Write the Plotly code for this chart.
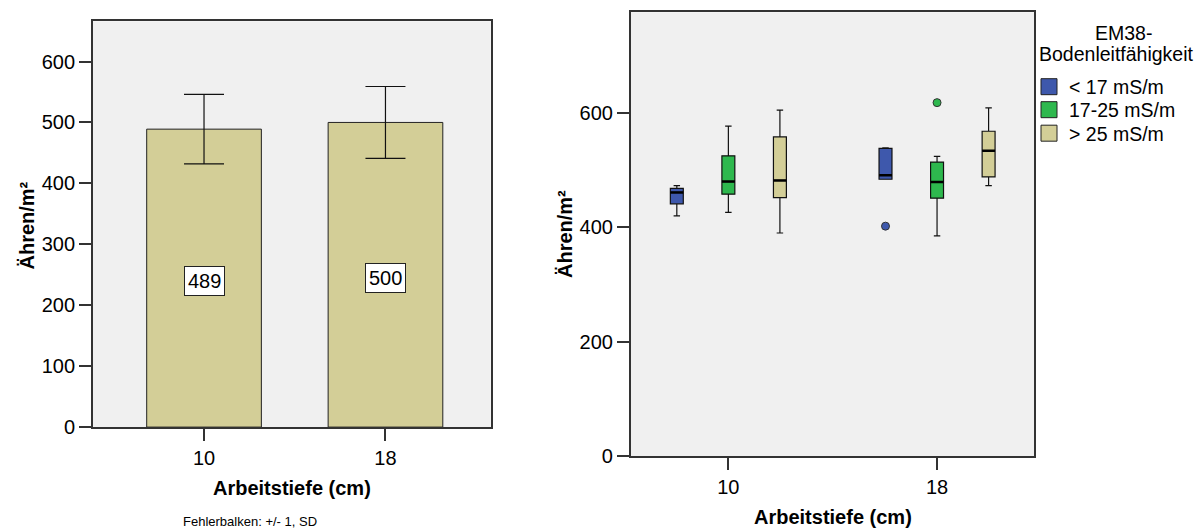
import plotly.graph_objects as go

W, H = 1204, 529

# ---------------- data ----------------
DEPTH_LABELS = ["10", "18"]
MEAN_EARS = [489, 500]
SD_EARS = [57, 59]

LEGEND_TITLE = ["EM38-", "Bodenleitfähigkeit"]
SERIES_NAMES = ["< 17 mS/m", "17-25 mS/m", "> 25 mS/m"]
SERIES_COLORS = ["#3E58AC", "#2EB84E", "#D3CE97"]
# per series -> per depth group (10, 18)
LOWER_WHISKER = [[420, 484], [426, 385], [390, 473]]
Q1 = [[441, 484], [458, 451], [452, 488]]
MEDIAN = [[461, 491], [480, 479], [482, 534]]
Q3 = [[468, 538], [525, 514], [558, 568]]
UPPER_WHISKER = [[473, 539], [577, 524], [605, 609]]
OUTLIER_GROUP = [[1], [1], []]
OUTLIER_VALUE = [[402], [618], []]

# ---------------- style ----------------
FONT = "Liberation Sans, Arial, sans-serif"
BG = "#F0F0F0"
FRAME = "#333333"
SERIES_OFFSET = [-0.247, 0.0, 0.247]
BOX_W = 0.062
LEGEND_IDS = ["legend", "legend2", "legend3"]
LEGEND_TOPS_PX = [67.5, 90.5, 114]


def px(x):
    return x / W


def py(y):
    return 1 - y / H


fig = go.Figure()

# ---- left: bar chart with SD error bars ----
group_pos = list(range(len(DEPTH_LABELS)))
fig.add_trace(go.Bar(
    x=group_pos, y=MEAN_EARS, width=0.632,
    marker=dict(color="#D3CE97", line=dict(color="#222222", width=1)),
    error_y=dict(type="data", array=SD_EARS, visible=True, color="#111111",
                 thickness=1.2, width=20),
    xaxis="x", yaxis="y", showlegend=False, hoverinfo="skip",
))

annotations = []
for i, v in enumerate(MEAN_EARS):
    annotations.append(dict(
        x=group_pos[i], y=v / 2, xref="x", yref="y", yshift=-3,
        text=str(v), showarrow=False,
        font=dict(family=FONT, size=20, color="black"),
        bgcolor="white", bordercolor="#222222", borderwidth=1, borderpad=3,
    ))

# ---- right: clustered box plot ----
for s, name in enumerate(SERIES_NAMES):
    xs = [g + SERIES_OFFSET[s] for g in group_pos]
    fig.add_trace(go.Box(
        x=xs, q1=Q1[s], median=MEDIAN[s], q3=Q3[s],
        lowerfence=LOWER_WHISKER[s], upperfence=UPPER_WHISKER[s],
        width=BOX_W, whiskerwidth=0.5, boxpoints=False,
        fillcolor=SERIES_COLORS[s], line=dict(color="#111111", width=1.2),
        xaxis="x2", yaxis="y2", showlegend=False, hoverinfo="skip",
    ))
    # thick median lines
    mx, my = [], []
    for gi, g in enumerate(group_pos):
        c = g + SERIES_OFFSET[s]
        mx += [c - BOX_W / 2, c + BOX_W / 2, None]
        my += [MEDIAN[s][gi], MEDIAN[s][gi], None]
    fig.add_trace(go.Scatter(
        x=mx, y=my, mode="lines", line=dict(color="black", width=2.5),
        xaxis="x2", yaxis="y2", showlegend=False, hoverinfo="skip",
    ))
    if OUTLIER_VALUE[s]:
        fig.add_trace(go.Scatter(
            x=[g + SERIES_OFFSET[s] for g in OUTLIER_GROUP[s]], y=OUTLIER_VALUE[s],
            mode="markers",
            marker=dict(color=SERIES_COLORS[s], size=8, line=dict(color="#333333", width=1)),
            xaxis="x2", yaxis="y2", showlegend=False, hoverinfo="skip",
        ))
    # legend swatch (each in its own legend for exact spacing)
    fig.add_trace(go.Scatter(
        x=[None], y=[None], mode="markers", name=name, legend=LEGEND_IDS[s],
        marker=dict(symbol="square", size=16, color=SERIES_COLORS[s],
                    line=dict(color="#222222", width=1)),
        xaxis="x2", yaxis="y2", showlegend=True,
    ))

# ---- axis titles & notes ----
title_font = dict(family=FONT, size=20, color="black")
leg_font = dict(family=FONT, size=19.5, color="black")
annotations += [
    dict(x=px(291.7), y=py(487.5), xref="paper", yref="paper", text="<b>Arbeitstiefe (cm)</b>",
         showarrow=False, font=title_font, xanchor="center", yanchor="middle"),
    dict(x=px(26.5), y=py(225), xref="paper", yref="paper", text="<b>Ähren/m²</b>",
         showarrow=False, font=title_font, textangle=-90, xanchor="center", yanchor="middle"),
    dict(x=px(250), y=py(521), xref="paper", yref="paper", text="Fehlerbalken: +/- 1, SD",
         showarrow=False, font=dict(family=FONT, size=13, color="black"),
         xanchor="center", yanchor="middle"),
    dict(x=px(832.5), y=py(516.7), xref="paper", yref="paper", text="<b>Arbeitstiefe (cm)</b>",
         showarrow=False, font=title_font, xanchor="center", yanchor="middle"),
    dict(x=px(565), y=py(234), xref="paper", yref="paper", text="<b>Ähren/m²</b>",
         showarrow=False, font=title_font, textangle=-90, xanchor="center", yanchor="middle"),
    dict(x=px(1123), y=py(33), xref="paper", yref="paper", text=LEGEND_TITLE[0],
         showarrow=False, font=leg_font, xanchor="center", yanchor="middle"),
    dict(x=px(1116.5), y=py(54), xref="paper", yref="paper", text=LEGEND_TITLE[1],
         showarrow=False, font=leg_font, xanchor="center", yanchor="middle"),
]

tick_font = dict(family=FONT, size=20, color="black")
axis_common = dict(showline=True, linecolor=FRAME, linewidth=1.5, mirror=True,
                   ticks="outside", ticklen=12, tickwidth=1.5, tickcolor=FRAME,
                   showgrid=False, zeroline=False, tickfont=tick_font, fixedrange=True,
                   automargin=False)

legend_layouts = {}
for lid, top in zip(LEGEND_IDS, LEGEND_TOPS_PX):
    legend_layouts[lid] = dict(
        x=px(1029), y=py(top), xanchor="left", yanchor="top",
        xref="paper", yref="paper",
        bgcolor="rgba(0,0,0,0)", borderwidth=0,
        font=dict(family=FONT, size=19.5, color="black"),
        itemclick=False, itemdoubleclick=False,
    )

fig.update_layout(
    template="none",
    width=W, height=H,
    margin=dict(l=0, r=0, t=0, b=0, pad=0, autoexpand=False),
    paper_bgcolor="white", plot_bgcolor=BG,
    font=dict(family=FONT, color="black"),
    xaxis=dict(domain=[px(92.8), px(490.7)], range=[-0.613, 1.58],
               tickvals=group_pos, ticktext=DEPTH_LABELS, anchor="y", **axis_common),
    yaxis=dict(domain=[py(427.1), py(21.3)], range=[0, 666],
               tickvals=[0, 100, 200, 300, 400, 500, 600], anchor="x", **axis_common),
    xaxis2=dict(domain=[px(630.7), px(1034.3)], range=[-0.468, 1.466],
                tickvals=group_pos, ticktext=DEPTH_LABELS, anchor="y2", **axis_common),
    yaxis2=dict(domain=[py(456), py(12.3)], range=[0, 776],
                tickvals=[0, 200, 400, 600], anchor="x2", **axis_common),
    annotations=annotations,
    showlegend=True,
    **legend_layouts,
)

fig.write_html("out.html")
